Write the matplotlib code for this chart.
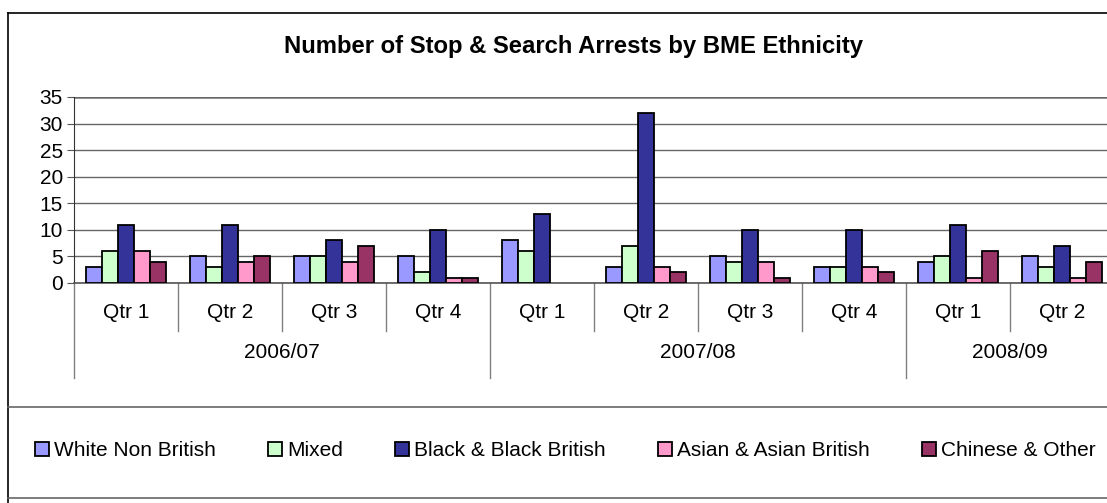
import numpy as np
import matplotlib.pyplot as plt
from matplotlib.lines import Line2D
from matplotlib.transforms import blended_transform_factory

plt.rcParams['font.family'] = ['Liberation Sans', 'DejaVu Sans']

quarters = ['Qtr 1', 'Qtr 2', 'Qtr 3', 'Qtr 4',
            'Qtr 1', 'Qtr 2', 'Qtr 3', 'Qtr 4',
            'Qtr 1', 'Qtr 2']
years = ['2006/07', '2007/08', '2008/09']
year_sizes = [4, 4, 2]

series_names = ['White Non British', 'Mixed', 'Black & Black British',
                'Asian & Asian British', 'Chinese & Other']
white_non_british = [3, 5, 5, 5, 8, 3, 5, 3, 4, 5]
mixed = [6, 3, 5, 2, 6, 7, 4, 3, 5, 3]
black_british = [11, 11, 8, 10, 13, 32, 10, 10, 11, 7]
asian_british = [6, 4, 4, 1, 0, 3, 4, 3, 1, 1]
chinese_other = [4, 5, 7, 1, 0, 2, 1, 2, 6, 4]

series = [white_non_british, mixed, black_british, asian_british, chinese_other]
colors = ['#9999FF', '#CCFFCC', '#333399', '#FF99CC', '#993366']

W, H = 1107, 503
fig = plt.figure(figsize=(W / 100, H / 100), dpi=100)

# plot area in pixels: x from 74, zero line at y=283, 35 at y=97, 104 px per category
x0, y0, y1, cat_px = 74, 283, 97, 104
ax = fig.add_axes([x0 / W, (H - y0) / H, (W - x0) / W, (y0 - y1) / H])
ax.set_xlim(0, (W - x0) / cat_px)
ax.set_ylim(0, 35)

bar_w = 16 / cat_px
xs = np.arange(len(quarters)) + 0.5
for j, (vals, col, name) in enumerate(zip(series, colors, series_names)):
    # zero-height bars get no outline, as in the original
    lws = [1.3 if v > 0 else 0 for v in vals]
    ax.bar(xs + (j - 2) * bar_w, vals, width=bar_w, color=col,
           edgecolor='black', linewidth=lws, label=name, zorder=3)

ax.set_yticks(np.arange(0, 36, 5))
ax.yaxis.grid(True, color='#666666', linewidth=1.0, zorder=0)
ax.tick_params(axis='y', labelsize=15, length=5, width=0.8, color='#555555', pad=3)
ax.set_xticks([])
for s in ['top', 'right']:
    ax.spines[s].set_visible(False)
ax.spines['left'].set_color('#333333')
ax.spines['bottom'].set_color('#555555')
ax.spines['bottom'].set_linewidth(1.2)
ax.axhline(35, color='#808080', linewidth=1.8, zorder=1)

# two-level category axis
tr = blended_transform_factory(ax.transData, ax.transAxes)
ax_h = y0 - y1
q_bottom = -(331 - y0) / ax_h
y_bottom = -(378 - y0) / ax_h
year_starts = np.cumsum([0] + year_sizes[:-1])
for i in range(len(quarters) + 1):
    bottom = y_bottom if i in year_starts else q_bottom
    ax.plot([i, i], [0, bottom], color='#808080', linewidth=1.0,
            transform=tr, clip_on=False)
for x, q in zip(xs, quarters):
    ax.text(x, -(313 - y0) / ax_h, q, transform=tr, ha='center', va='center',
            fontsize=15)
for start, size, yr in zip(year_starts, year_sizes, years):
    ax.text(start + size / 2, -(352 - y0) / ax_h, yr, transform=tr,
            ha='center', va='center', fontsize=15)

# title
fig.text(573 / W, (H - 46) / H,
         'Number of Stop & Search Arrests by BME Ethnicity',
         ha='center', va='center', fontsize=17.2, fontweight='bold')

# chart frame and legend box lines
fig.add_artist(Line2D([8 / W, 1], [(H - 13) / H] * 2, color='black', linewidth=1.2))
fig.add_artist(Line2D([8 / W] * 2, [(H - 13) / H, 0], color='black', linewidth=1.2))
fig.add_artist(Line2D([8 / W, 1], [(H - 407) / H] * 2, color='#666666', linewidth=1.2))
fig.add_artist(Line2D([8 / W, 1], [(H - 498) / H] * 2, color='#666666', linewidth=1.2))

fig.legend(loc='center', bbox_to_anchor=(565 / W, (H - 451) / H), ncol=5,
           frameon=False, fontsize=15, handlelength=0.67, handleheight=0.67,
           handletextpad=0.25, columnspacing=2.5, borderaxespad=0)

fig.savefig('out.png', dpi=100)
